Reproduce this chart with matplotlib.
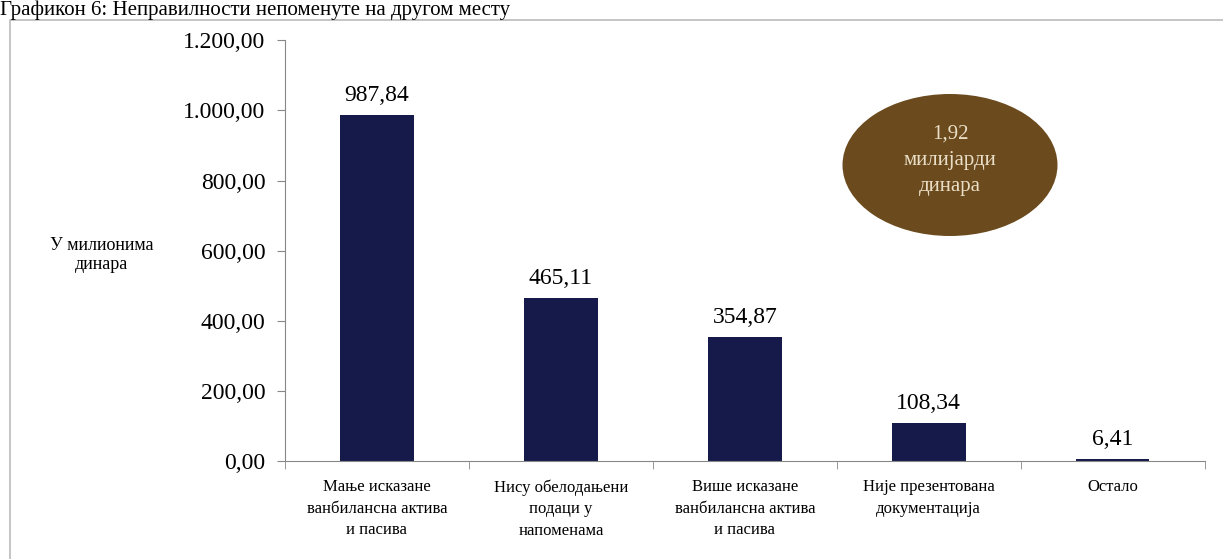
import matplotlib.pyplot as plt
from matplotlib.patches import Ellipse, Rectangle
import numpy as np

plt.rcParams['font.family'] = ['Liberation Serif', 'DejaVu Serif']

categories = ['Мање исказане\nванбилансна актива\nи пасива',
              'Нису обелодањени\nподаци у\nнапоменама',
              'Више исказане\nванбилансна актива\nи пасива',
              'Није презентована\nдокументација',
              'Остало']
values = [987.84, 465.11, 354.87, 108.34, 6.41]
yticks = [0, 200, 400, 600, 800, 1000, 1200]


def fmt(v):
    # serbian number format: 1.200,00
    s = f'{v:,.2f}'
    return s.replace(',', 'X').replace('.', ',').replace('X', '.')


fig = plt.figure(figsize=(12.23, 5.59), dpi=100)
ax = fig.add_axes([0.233, 0.175, 0.752, 0.753])

x = np.arange(len(categories))
ax.bar(x, values, width=0.4, color='#151a4b')
for xi, v in zip(x, values):
    ax.text(xi, v + 26, fmt(v), ha='center', va='bottom', fontsize=17)

ax.set_xlim(-0.5, len(categories) - 0.5)
ax.set_ylim(0, 1200)
ax.set_yticks(yticks)
ax.set_yticklabels([fmt(t) for t in yticks], fontsize=17)
ax.set_xticks(x)
ax.set_xticklabels(categories, fontsize=12, linespacing=1.45, va='top')
ax.set_xticks(np.arange(-0.5, len(categories)), minor=True)
ax.tick_params(axis='x', which='major', length=0, pad=13)
ax.tick_params(axis='x', which='minor', length=6, color='#888888', direction='out')
ax.tick_params(axis='y', length=6, color='#888888', pad=8)

for side in ['top', 'right']:
    ax.spines[side].set_visible(False)
ax.spines['left'].set_color('#888888')
ax.spines['bottom'].set_color('#888888')

fig.text(102 / 1223, 1 - 255 / 559, 'У милионима\nдинара', ha='center', va='center',
         fontsize=13, linespacing=1.15)

# outer frame
fig.patches.append(Rectangle((10 / 1223, -0.01), 1.2, 1 - 20 / 559 + 0.01,
                             transform=fig.transFigure, fill=False,
                             edgecolor='#bbbbbb', linewidth=1.2))

fig.text(0.0, 1 - 15 / 559, 'Графикон 6: Неправилности непоменуте на другом месту',
         ha='left', va='baseline', fontsize=15)

# total bubble
fig.patches.append(Ellipse((950 / 1223, 1 - 165 / 559), 215 / 1223, 142 / 559,
                           transform=fig.transFigure, facecolor='#6b4a1e',
                           edgecolor='none'))
fig.text(950 / 1223, 1 - 160 / 559, '1,92\nмилијарди\nдинара', ha='center', va='center',
         fontsize=15, color='#eadfc6', linespacing=1.5)

fig.savefig('out.png', dpi=100)
